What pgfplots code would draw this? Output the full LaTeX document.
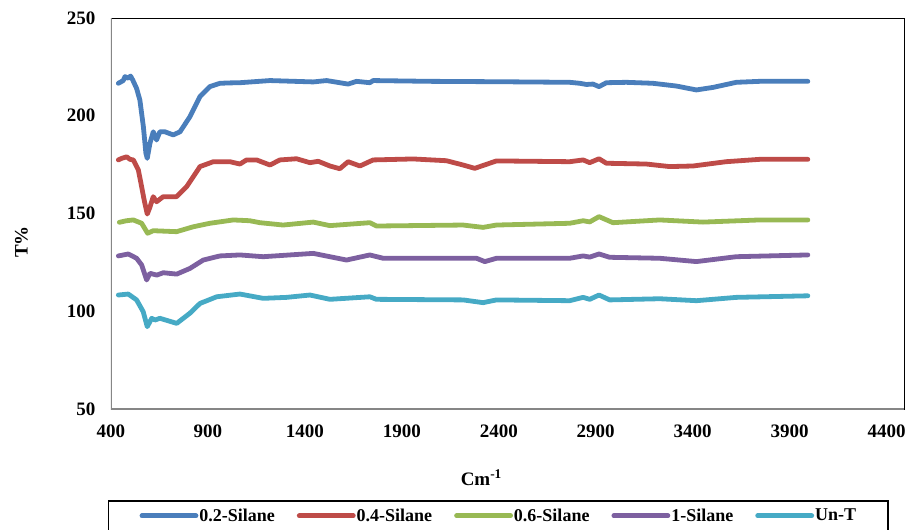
\documentclass[border=0pt]{standalone}
\usepackage{fontspec}
\setmainfont{Liberation Serif}
\usepackage{pgfplots}
\usepackage{pgfplotstable}
\pgfplotsset{compat=1.18}

\definecolor{cBlue}{HTML}{4A7EBB}
\definecolor{cRed}{HTML}{BE4B48}
\definecolor{cGreen}{HTML}{98B954}
\definecolor{cPurple}{HTML}{7D60A0}
\definecolor{cAqua}{HTML}{46AAC5}
\definecolor{axgray}{HTML}{868686}

% 0.2-Silane
\pgfplotstableread{
x y
438 216.6
463 218
472 220
489 219.2
501 220.3
512 218.3
532 214
549 208
567 194.4
580 180.8
587 178.2
601 186
618 191.8
635 187.6
652 191.8
678 191.8
721 190.2
756 191.8
807 199.5
858 209.7
910 214.9
962 216.6
1013 216.8
1065 216.9
1220 218
1443 217.3
1512 218
1623 216.2
1666 217.6
1735 216.9
1752 218
2044 217.6
2400 217.4
2766 217.1
2818 216.6
2852 216
2886 216.2
2917 214.9
2955 216.9
3058 217.1
3195 216.6
3316 215.2
3419 213.2
3505 214.5
3625 217.1
3745 217.6
3994 217.6
}\silaneA

% 0.4-Silane
\pgfplotstableread{
x y
438 177.4
455 178.2
481 179
498 177.7
515 177.4
541 172.3
558 163.7
571 156.9
587 149.7
600 153
618 158.6
635 156
669 158.6
738 158.6
790 163.7
859 174
928 176.5
1013 176.5
1065 175.3
1099 177.4
1151 177.4
1220 174.8
1271 177.4
1357 178
1426 176
1469 176.7
1529 174.3
1580 172.9
1623 176.5
1684 174.3
1752 177.4
1958 177.9
2130 177
2216 174.8
2276 173.1
2388 176.9
2766 176.5
2835 177.4
2869 176
2917 178
2955 175.7
3161 175.3
3281 174
3402 174.3
3573 176.5
3745 177.7
3994 177.7
}\silaneB

% 0.6-Silane
\pgfplotstableread{
x y
443 145.5
480 146.3
515 146.7
558 145
589 139.9
618 141.2
738 140.7
824 143.2
910 145
1030 146.7
1116 146.3
1168 145.3
1288 144.1
1443 145.6
1529 143.8
1735 145.3
1769 143.6
2216 144.1
2319 142.9
2388 144.1
2766 145
2835 146.3
2869 145.7
2917 148.4
2989 145.3
3230 146.7
3453 145.6
3745 146.7
3994 146.7
}\silaneC

% 1-Silane
\pgfplotstableread{
x y
438 128.3
489 129.3
532 127.1
558 123.7
584 116
601 119.4
636 118.5
670 119.7
739 119
807 121.9
876 126.2
962 128.3
1065 128.8
1185 127.9
1443 129.6
1615 126.2
1735 128.8
1804 127.1
2285 127.1
2328 125.4
2388 127.1
2766 127.1
2835 128.3
2869 127.7
2917 129.3
2972 127.6
3230 127.1
3419 125.4
3625 127.9
3994 128.8
}\silaneD

% Un-T
\pgfplotstableread{
x y
438 108.3
489 108.8
532 105.8
566 99.8
587 92.1
610 96.4
627 95.5
652 96.4
739 93.8
807 99
859 104
945 107.4
1065 108.8
1185 106.6
1306 107.1
1426 108.3
1529 106.1
1735 107.4
1769 106.1
2216 105.8
2319 104.4
2388 105.8
2766 105.4
2835 107.1
2869 106.1
2917 108.3
2972 105.8
3230 106.4
3419 105.4
3625 107.1
3994 107.9
}\untreated

\begin{document}
\begin{tikzpicture}
% page = 908 x 530 bp, axis box lower-left at (0,0)
\path[use as bounding box] (-111bp,-121bp) rectangle (797bp,409bp);
\begin{axis}[
  scale only axis,
  width=793bp, height=391bp,
  xmin=400, xmax=4490,
  ymin=50, ymax=250,
  xtick={400,900,...,4400},
  ytick={50,100,...,250},
  major tick length=0pt,
  axis line style={black, line width=0.8bp},
  /pgf/number format/assume math mode=true,
  /pgf/number format/1000 sep={},
  ticklabel style={font=\bfseries\fontsize{19bp}{22bp}\selectfont},
  yticklabel style={xshift=-12bp},
  xticklabel style={yshift=-12bp},
  xlabel={Cm\textsuperscript{-1}},
  ylabel={T\%},
  label style={font=\bfseries\fontsize{19bp}{22bp}\selectfont},
  xlabel style={at={(axis description cs:0.467,-0.176)}, anchor=center},
  ylabel style={at={(axis description cs:-0.113,0.427)}, anchor=center},
  every axis plot/.append style={line width=4.8bp, line join=round, line cap=round},
  legend columns=-1,
  legend style={
    at={(axis description cs:-0.004,-0.233)}, anchor=north west,
    draw=black, line width=1.5bp,
    inner xsep=31bp, inner ysep=6bp,
    font=\bfseries\fontsize{18bp}{21bp}\selectfont,
    nodes={inner xsep=1bp},
    /tikz/every even column/.append style={column sep=21bp},
  },
  legend image code/.code={\draw[#1] (0bp,0bp) -- (54bp,0bp);},
]
\addplot[cBlue]   table {\silaneA};
\addplot[cRed]    table {\silaneB};
\addplot[cGreen]  table {\silaneC};
\addplot[cPurple] table {\silaneD};
\addplot[cAqua]   table {\untreated};
\legend{0.2-Silane, 0.4-Silane, 0.6-Silane, 1-Silane, Un-T}
\draw[axgray, line width=2bp] (rel axis cs:0,1) -- (rel axis cs:0,0) -- (rel axis cs:1,0);
\end{axis}
\end{tikzpicture}
\end{document}
